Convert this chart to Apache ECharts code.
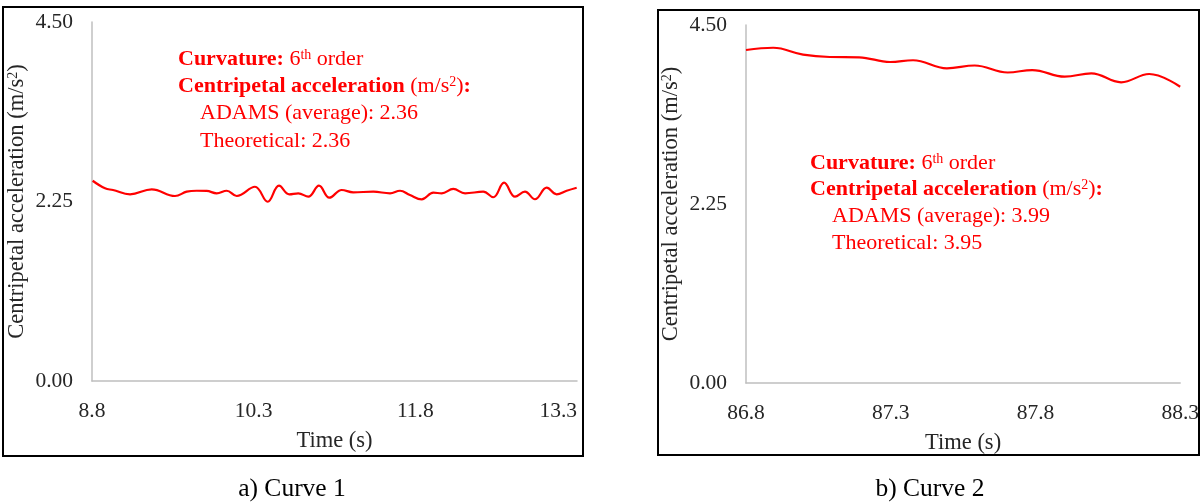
<!DOCTYPE html>
<html>
<head>
<meta charset="utf-8">
<title>Centripetal acceleration – Curve 1 and Curve 2</title>
<script src="https://cdn.jsdelivr.net/npm/echarts@6/dist/echarts.min.js"></script>
<style>
  html, body { margin: 0; padding: 0; background: #ffffff; }
  #chart { width: 1202px; height: 502px; }
</style>
</head>
<body>
<div id="chart"></div>
<script>
// Curve 1: time (s) and centripetal acceleration (m/s^2)
const curve1Time = [8.806, 8.921, 8.995, 9.153, 9.354, 9.570, 9.679, 9.771, 9.864, 9.957,
  10.050, 10.143, 10.312, 10.430, 10.535, 10.631, 10.714, 10.807, 10.906, 11.002,
  11.117, 11.224, 11.410, 11.565, 11.658, 11.750, 11.859, 11.967, 12.045, 12.152,
  12.261, 12.430, 12.523, 12.623, 12.725, 12.817, 12.910, 13.019, 13.111, 13.204, 13.297];
const curve1Acc = [2.51, 2.415, 2.394, 2.34, 2.403, 2.319, 2.373, 2.385, 2.382, 2.353,
  2.385, 2.319, 2.435, 2.247, 2.448, 2.34, 2.353, 2.31, 2.448, 2.298,
  2.394, 2.365, 2.373, 2.353, 2.385, 2.331, 2.277, 2.36, 2.353, 2.407,
  2.353, 2.373, 2.303, 2.486, 2.31, 2.373, 2.278, 2.423, 2.34, 2.385, 2.423];

// Curve 2: time (s) and centripetal acceleration (m/s^2)
const curve2Time = [86.800, 86.894, 86.997, 87.089, 87.191, 87.298, 87.377, 87.494,
  87.590, 87.704, 87.789, 87.901, 87.993, 88.096, 88.193, 88.300];
const curve2Acc = [4.186, 4.214, 4.128, 4.098, 4.094, 4.035, 4.057, 3.955,
  3.991, 3.903, 3.934, 3.850, 3.893, 3.780, 3.884, 3.724];

// Tick labels
const curve1Ticks = [8.8, 10.3, 11.8, 13.3];
const curve2Ticks = [86.8, 87.3, 87.8, 88.3];
const accTicks = [0, 2.25, 4.5];

// Annotation values
const curve1Adams = '2.36';
const curve1Theory = '2.36';
const curve2Adams = '3.99';
const curve2Theory = '3.95';

const FONT = "'Liberation Serif', 'Times New Roman', serif";
const RED = '#ff0000';
const AXIS_GREY = '#bfbfbf';
const TEXT_GREY = '#262626';

function pairs(xs, ys) {
  return xs.map((x, i) => [x, ys[i]]);
}

function xAxisFor(gridIndex, ticks, alignLast) {
  return {
    type: 'value',
    gridIndex: gridIndex,
    min: ticks[0],
    max: ticks[ticks.length - 1],
    name: 'Time (s)',
    nameLocation: 'middle',
    nameGap: 49,
    nameTextStyle: { fontFamily: FONT, fontSize: 22.5, color: TEXT_GREY },
    axisLine: { show: true, lineStyle: { color: AXIS_GREY, width: 1.5 } },
    axisTick: { show: false },
    splitLine: { show: false },
    axisLabel: {
      customValues: ticks,
      margin: 19,
      alignMaxLabel: alignLast,
      fontFamily: FONT, fontSize: 21.5, color: TEXT_GREY,
      formatter: v => Number(v).toFixed(1)
    }
  };
}

function yAxisFor(gridIndex) {
  return {
    type: 'value',
    gridIndex: gridIndex,
    min: accTicks[0],
    max: accTicks[accTicks.length - 1],
    interval: 2.25,
    name: 'Centripetal acceleration (m/s{sup|2})',
    nameLocation: 'middle',
    nameRotate: 90,
    nameGap: 63,
    nameTextStyle: {
      fontFamily: FONT, fontSize: 22.5, color: TEXT_GREY,
      rich: { sup: { fontFamily: FONT, fontSize: 14, color: TEXT_GREY, verticalAlign: 'top' } }
    },
    axisLine: { show: true, lineStyle: { color: AXIS_GREY, width: 1.5 } },
    axisTick: { show: false },
    splitLine: { show: false },
    axisLabel: {
      margin: 19,
      fontFamily: FONT, fontSize: 21.5, color: TEXT_GREY,
      formatter: v => Number(v).toFixed(2)
    }
  };
}

const richStyles = {
  b: { fontFamily: FONT, fontSize: 22, fontWeight: 'bold', fill: RED },
  n: { fontFamily: FONT, fontSize: 22, fill: RED },
  sup: { fontFamily: FONT, fontSize: 14, fill: RED, verticalAlign: 'top' }
};

function annotation(x, y, lh, adams, theory) {
  const mk = (dx, dy, text) => ({
    type: 'text',
    x: x + dx,
    y: y + dy,
    style: {
      text: text,
      fontFamily: FONT,
      fontSize: 22,
      fill: RED,
      verticalAlign: 'middle',
      rich: richStyles
    }
  });
  return [
    mk(0, 0, '{b|Curvature:} {n|6}{sup|th}{n| order}'),
    mk(0, lh, '{b|Centripetal acceleration} {n|(m/s}{sup|2}{n|)}{b|:}'),
    mk(22, lh * 2, 'ADAMS (average): ' + adams),
    mk(22, lh * 3, 'Theoretical: ' + theory)
  ];
}

function frame(x, y, w, h) {
  return {
    type: 'rect',
    shape: { x: x, y: y, width: w, height: h },
    style: { fill: 'none', stroke: '#000000', lineWidth: 2 },
    silent: true
  };
}

function caption(x, y, text) {
  return {
    type: 'text',
    x: x,
    y: y,
    style: {
      text: text,
      fontFamily: FONT,
      fontSize: 25.5,
      fill: '#000000',
      align: 'center',
      verticalAlign: 'middle'
    }
  };
}

const chart = echarts.init(document.getElementById('chart'), null, { renderer: 'canvas' });

chart.setOption({
  backgroundColor: '#ffffff',
  animation: false,
  grid: [
    { left: 92, top: 22, width: 485, height: 359 },
    { left: 746, top: 25, width: 437, height: 358 }
  ],
  xAxis: [xAxisFor(0, curve1Ticks, 'right'), xAxisFor(1, curve2Ticks, 'center')],
  yAxis: [yAxisFor(0), yAxisFor(1)],
  series: [
    {
      type: 'line',
      xAxisIndex: 0, yAxisIndex: 0,
      data: pairs(curve1Time, curve1Acc),
      smooth: 0.4,
      showSymbol: false,
      lineStyle: { color: RED, width: 2.2 }
    },
    {
      type: 'line',
      xAxisIndex: 1, yAxisIndex: 1,
      data: pairs(curve2Time, curve2Acc),
      smooth: 0.4,
      showSymbol: false,
      lineStyle: { color: RED, width: 2.2 }
    }
  ],
  graphic: [
    frame(3, 7, 580, 449),
    frame(658, 10, 541, 445),
    ...annotation(178, 59, 27.3, curve1Adams, curve1Theory),
    ...annotation(810, 163, 26.6, curve2Adams, curve2Theory),
    caption(292, 489, 'a) Curve 1'),
    caption(930, 489, 'b) Curve 2')
  ]
});
</script>
</body>
</html>
